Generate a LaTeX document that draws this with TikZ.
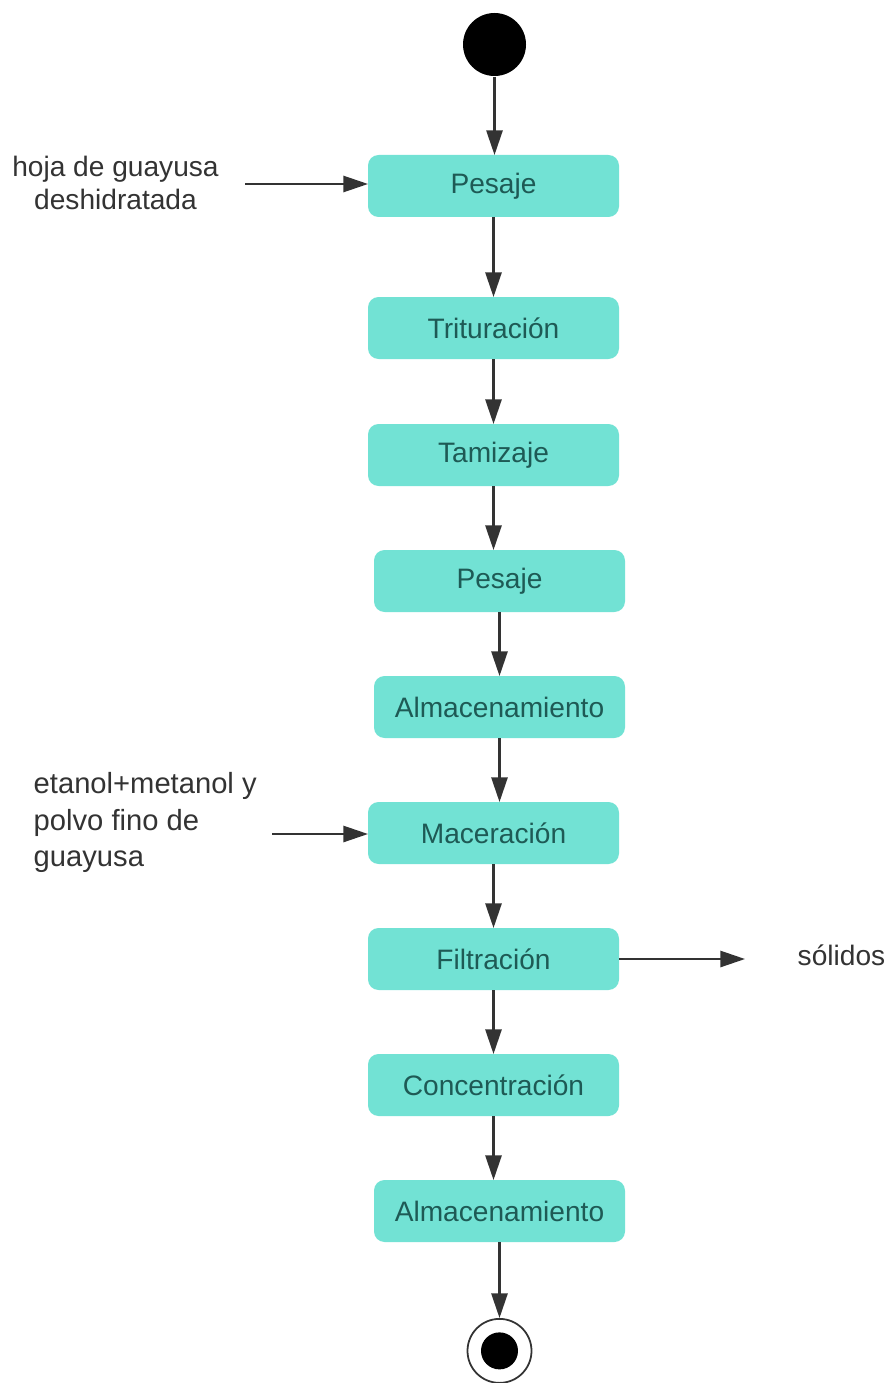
\documentclass[tikz,border=0pt]{standalone}
\usepackage{fontspec}
\setmainfont{Liberation Sans}
\usetikzlibrary{positioning,arrows.meta}
\definecolor{actfill}{HTML}{72E2D4}
\definecolor{acttext}{HTML}{1E5A55}
\definecolor{linegray}{HTML}{333333}
\begin{document}
\begin{tikzpicture}[node distance=0.64cm,
		act/.style={rectangle, rounded corners=3pt, fill=actfill, text=acttext,
			minimum width=2.51cm, minimum height=0.62cm, inner sep=0pt, outer sep=0pt},
		flow/.style={draw=linegray, line width=0.6pt,
			-{Triangle[length=7pt,width=4.6pt]}},
		lbl/.style={text=linegray, inner sep=0pt}]
		\fontsize{8}{9.4}\selectfont
		\useasboundingbox (0,0) rectangle (8.89,-13.83);
		% inicio y fin
		\node[circle, fill=black, minimum size=0.63cm, inner sep=0pt] (inicio) at (4.945,-0.445) {};
		% actividades
		\node[act] (pesaje1) at (4.935,-1.86) {Pesaje};
		\node[act, below=0.80cm of pesaje1] (tritura) {Trituración};
		\node[act, below=0.65cm of tritura] (tamiz) {Tamizaje};
		\node[act, below=of tamiz, xshift=0.06cm] (pesaje2) {Pesaje};
		\node[act, below=of pesaje2] (almac1) {Almacenamiento};
		\node[act, below=of almac1, xshift=-0.06cm] (macera) {Maceración};
		\node[act, below=of macera] (filtra) {Filtración};
		\node[act, below=of filtra] (concen) {Concentración};
		\node[act, below=of concen, xshift=0.06cm] (almac2) {Almacenamiento};
		\node[circle, draw=linegray, line width=0.5pt, minimum size=0.64cm, inner sep=0pt,
			below=0.76cm of almac2] (fin) {};
		\fill (fin) circle (0.185cm);
		% entradas y salidas
		\node[lbl, align=center] (hoja) at (1.155,-1.83) {hoja de guayusa\\deshidratada};
		\node[lbl, align=left, anchor=west, font=\fontsize{8.3}{10.5}\selectfont] (solvente)
			at (0.33,-8.225) {etanol+metanol y\\polvo fino de\\guayusa};
		\node[lbl, anchor=base west] (solidos) at (7.97,-9.65) {sólidos};
		\coordinate (entrada1) at (2.45,-1.84);
		\coordinate (entrada2) at (2.72,-8.34);
		\coordinate (salida) at (7.45,-9.59);
		% conectores
		\foreach \a/\b in {inicio/pesaje1, pesaje1/tritura, tritura/tamiz, tamiz/pesaje2,
			pesaje2/almac1, almac1/macera, macera/filtra, filtra/concen, concen/almac2, almac2/fin}
		\draw[flow] (\a) -- (\a |- \b.north);
		\draw[flow] (entrada1) -- (entrada1 -| pesaje1.west);
		\draw[flow] (entrada2) -- (entrada2 -| macera.west);
		\draw[flow] (filtra.east |- salida) -- (salida);
\end{tikzpicture}
\end{document}
